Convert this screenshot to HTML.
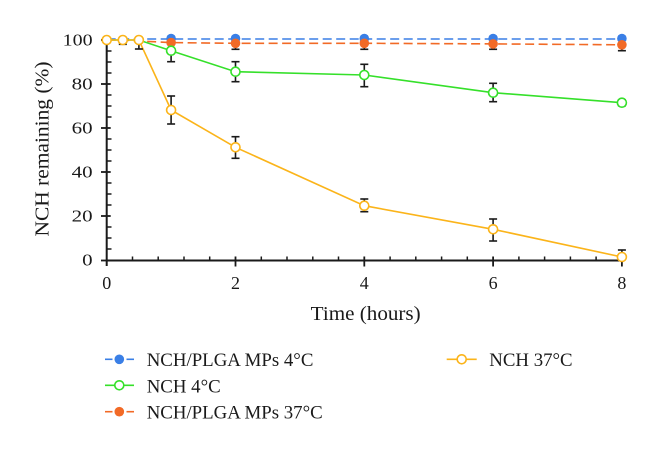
<!DOCTYPE html>
<html>
<head>
<meta charset="utf-8">
<style>
html,body{margin:0;padding:0;background:#fff;}
svg{display:block;}
text{font-family:"Liberation Serif","DejaVu Serif",serif;fill:#1a1a1a;}
</style>
</head>
<body>
<svg width="660" height="451" viewBox="0 0 660 451" xmlns="http://www.w3.org/2000/svg">
<rect width="660" height="451" fill="#fff"/>

<!-- Axes -->
<g stroke="#1a1a1a" fill="none">
  <line x1="106.7" y1="40" x2="106.7" y2="266" stroke-width="2"/>
  <line x1="105.7" y1="260.5" x2="622.5" y2="260.5" stroke-width="2"/>
  <g stroke-width="1.8">
    <line x1="101" y1="40" x2="110.7" y2="40"/>
    <line x1="101" y1="84" x2="110.7" y2="84"/>
    <line x1="101" y1="128" x2="110.7" y2="128"/>
    <line x1="101" y1="172" x2="110.7" y2="172"/>
    <line x1="101" y1="216" x2="110.7" y2="216"/>
    <line x1="101" y1="260.5" x2="106.7" y2="260.5"/>
  </g>
  <g stroke-width="1.5">
    <line x1="106.7" y1="51" x2="111.5" y2="51"/>
    <line x1="106.7" y1="62" x2="111.5" y2="62"/>
    <line x1="106.7" y1="73" x2="111.5" y2="73"/>
    <line x1="106.7" y1="95" x2="111.5" y2="95"/>
    <line x1="106.7" y1="106" x2="111.5" y2="106"/>
    <line x1="106.7" y1="117" x2="111.5" y2="117"/>
    <line x1="106.7" y1="139" x2="111.5" y2="139"/>
    <line x1="106.7" y1="150" x2="111.5" y2="150"/>
    <line x1="106.7" y1="161" x2="111.5" y2="161"/>
    <line x1="106.7" y1="183" x2="111.5" y2="183"/>
    <line x1="106.7" y1="194" x2="111.5" y2="194"/>
    <line x1="106.7" y1="205" x2="111.5" y2="205"/>
    <line x1="106.7" y1="227" x2="111.5" y2="227"/>
    <line x1="106.7" y1="238" x2="111.5" y2="238"/>
    <line x1="106.7" y1="249" x2="111.5" y2="249"/>
  </g>
  <g stroke-width="1.8">
    <line x1="235.5" y1="256.5" x2="235.5" y2="266.5"/>
    <line x1="364.3" y1="256.5" x2="364.3" y2="266.5"/>
    <line x1="493.1" y1="256.5" x2="493.1" y2="266.5"/>
    <line x1="621.9" y1="256.5" x2="621.9" y2="266.5"/>
  </g>
  <g stroke-width="1.5">
    <line x1="132.5" y1="256.5" x2="132.5" y2="260.5"/>
    <line x1="158.2" y1="256.5" x2="158.2" y2="260.5"/>
    <line x1="184.0" y1="256.5" x2="184.0" y2="260.5"/>
    <line x1="209.7" y1="256.5" x2="209.7" y2="260.5"/>
    <line x1="261.3" y1="256.5" x2="261.3" y2="260.5"/>
    <line x1="287.0" y1="256.5" x2="287.0" y2="260.5"/>
    <line x1="312.8" y1="256.5" x2="312.8" y2="260.5"/>
    <line x1="338.5" y1="256.5" x2="338.5" y2="260.5"/>
    <line x1="390.1" y1="256.5" x2="390.1" y2="260.5"/>
    <line x1="415.8" y1="256.5" x2="415.8" y2="260.5"/>
    <line x1="441.6" y1="256.5" x2="441.6" y2="260.5"/>
    <line x1="467.3" y1="256.5" x2="467.3" y2="260.5"/>
    <line x1="518.9" y1="256.5" x2="518.9" y2="260.5"/>
    <line x1="544.6" y1="256.5" x2="544.6" y2="260.5"/>
    <line x1="570.4" y1="256.5" x2="570.4" y2="260.5"/>
    <line x1="596.1" y1="256.5" x2="596.1" y2="260.5"/>
  </g>
</g>

<!-- Tick labels -->
<g font-size="17">
  <text x="92.7" y="45.7" text-anchor="end" textLength="30" lengthAdjust="spacingAndGlyphs">100</text>
  <text x="92.7" y="89.5" text-anchor="end" textLength="21" lengthAdjust="spacingAndGlyphs">80</text>
  <text x="92.7" y="133.5" text-anchor="end" textLength="21" lengthAdjust="spacingAndGlyphs">60</text>
  <text x="92.7" y="177.5" text-anchor="end" textLength="21" lengthAdjust="spacingAndGlyphs">40</text>
  <text x="92.7" y="221.5" text-anchor="end" textLength="21" lengthAdjust="spacingAndGlyphs">20</text>
  <text x="92.7" y="265.7" text-anchor="end" textLength="10.5" lengthAdjust="spacingAndGlyphs">0</text>
</g>
<g font-size="18">
  <text x="106.7" y="289" text-anchor="middle">0</text>
  <text x="235.5" y="289" text-anchor="middle">2</text>
  <text x="364.3" y="289" text-anchor="middle">4</text>
  <text x="493.1" y="289" text-anchor="middle">6</text>
  <text x="621.9" y="289" text-anchor="middle">8</text>
</g>

<!-- Axis titles -->
<text x="365.7" y="320" font-size="20" text-anchor="middle" textLength="110" lengthAdjust="spacingAndGlyphs">Time (hours)</text>
<text transform="translate(48.5,149) rotate(-90)" x="0" y="0" font-size="20" text-anchor="middle" textLength="175" lengthAdjust="spacingAndGlyphs">NCH remaining (%)</text>

<polyline fill="none" stroke="#3a7fe6" stroke-width="1.6" stroke-dasharray="9 4.5"
  points="106.7,39 122.8,39 138.9,39 171.1,39 235.5,39 364.3,39 493.1,39 621.9,39"/>
<polyline fill="none" stroke="#f26a26" stroke-width="1.6" stroke-dasharray="9 4.5"
  points="106.7,40 122.8,40 138.9,41 171.1,42.6 235.5,43.3 364.3,43.3 493.1,43.9 621.9,44.8"/>
<polyline fill="none" stroke="#35e02a" stroke-width="1.6"
  points="106.7,40 122.8,40 138.9,40 171.1,50.7 235.5,71.7 364.3,75 493.1,92.7 621.9,102.7"/>
<polyline fill="none" stroke="#fbb41a" stroke-width="1.6"
  points="106.7,40 122.8,40 138.9,40 171.1,110 235.5,147.3 364.3,205.7 493.1,229.3 621.9,257"/>

<g stroke="#1a1a1a" stroke-width="1.6" fill="none">
  <line x1="122.8" y1="40" x2="122.8" y2="44.3"/><line x1="118.8" y1="44.3" x2="126.8" y2="44.3"/>
  <line x1="138.9" y1="40" x2="138.9" y2="49"/><line x1="134.9" y1="49" x2="142.9" y2="49"/>
  <line x1="235.5" y1="43" x2="235.5" y2="49.3"/><line x1="231.5" y1="49.3" x2="239.5" y2="49.3"/>
  <line x1="364.3" y1="43" x2="364.3" y2="49.3"/><line x1="360.3" y1="49.3" x2="368.3" y2="49.3"/>
  <line x1="493.1" y1="43" x2="493.1" y2="49.3"/><line x1="489.1" y1="49.3" x2="497.1" y2="49.3"/>
  <line x1="621.9" y1="44" x2="621.9" y2="50.7"/><line x1="617.9" y1="50.7" x2="625.9" y2="50.7"/>
  <line x1="171.1" y1="43.3" x2="171.1" y2="61.7"/><line x1="167.1" y1="43.3" x2="175.1" y2="43.3"/><line x1="167.1" y1="61.7" x2="175.1" y2="61.7"/>
  <line x1="235.5" y1="61.7" x2="235.5" y2="81.7"/><line x1="231.5" y1="61.7" x2="239.5" y2="61.7"/><line x1="231.5" y1="81.7" x2="239.5" y2="81.7"/>
  <line x1="364.3" y1="64.3" x2="364.3" y2="86.7"/><line x1="360.3" y1="64.3" x2="368.3" y2="64.3"/><line x1="360.3" y1="86.7" x2="368.3" y2="86.7"/>
  <line x1="493.1" y1="83.3" x2="493.1" y2="101.7"/><line x1="489.1" y1="83.3" x2="497.1" y2="83.3"/><line x1="489.1" y1="101.7" x2="497.1" y2="101.7"/>
  <line x1="621.9" y1="99.8" x2="621.9" y2="105.8"/><line x1="617.9" y1="99.8" x2="625.9" y2="99.8"/><line x1="617.9" y1="105.8" x2="625.9" y2="105.8"/>
  <line x1="171.1" y1="96" x2="171.1" y2="124"/><line x1="167.1" y1="96" x2="175.1" y2="96"/><line x1="167.1" y1="124" x2="175.1" y2="124"/>
  <line x1="235.5" y1="136.7" x2="235.5" y2="158.3"/><line x1="231.5" y1="136.7" x2="239.5" y2="136.7"/><line x1="231.5" y1="158.3" x2="239.5" y2="158.3"/>
  <line x1="364.3" y1="199" x2="364.3" y2="211.7"/><line x1="360.3" y1="199" x2="368.3" y2="199"/><line x1="360.3" y1="211.7" x2="368.3" y2="211.7"/>
  <line x1="493.1" y1="219" x2="493.1" y2="241"/><line x1="489.1" y1="219" x2="497.1" y2="219"/><line x1="489.1" y1="241" x2="497.1" y2="241"/>
  <line x1="621.9" y1="250" x2="621.9" y2="259"/><line x1="617.9" y1="250" x2="625.9" y2="250"/>
</g>

<g fill="#3a7fe6">
  <circle cx="171.1" cy="38.5" r="4.8"/>
  <circle cx="235.5" cy="38.5" r="4.8"/>
  <circle cx="364.3" cy="38.5" r="4.8"/>
  <circle cx="493.1" cy="38.5" r="4.8"/>
  <circle cx="621.9" cy="38.5" r="4.8"/>
</g>
<g fill="#f26a26">
  <circle cx="171.1" cy="42.6" r="4.8"/>
  <circle cx="235.5" cy="43.3" r="4.8"/>
  <circle cx="364.3" cy="43.3" r="4.8"/>
  <circle cx="493.1" cy="43.9" r="4.8"/>
  <circle cx="621.9" cy="44.8" r="4.8"/>
</g>
<g fill="#fff" stroke="#35e02a" stroke-width="1.6">
  <circle cx="171.1" cy="50.7" r="4.5"/>
  <circle cx="235.5" cy="71.7" r="4.5"/>
  <circle cx="364.3" cy="75" r="4.5"/>
  <circle cx="493.1" cy="92.7" r="4.5"/>
  <circle cx="621.9" cy="102.7" r="4.5"/>
</g>
<g fill="#fff" stroke="#fbb41a" stroke-width="1.6">
  <circle cx="106.7" cy="40" r="4.5"/>
  <circle cx="122.8" cy="40" r="4.5"/>
  <circle cx="138.9" cy="40" r="4.5"/>
  <circle cx="171.1" cy="110" r="4.5"/>
  <circle cx="235.5" cy="147.3" r="4.5"/>
  <circle cx="364.3" cy="205.7" r="4.5"/>
  <circle cx="493.1" cy="229.3" r="4.5"/>
  <circle cx="621.9" cy="257" r="4.5"/>
</g>

<g>
  <line x1="105" y1="359.3" x2="112.5" y2="359.3" stroke="#3a7fe6" stroke-width="1.6"/>
  <line x1="126.5" y1="359.3" x2="134" y2="359.3" stroke="#3a7fe6" stroke-width="1.6"/>
  <circle cx="119.3" cy="359.3" r="4.8" fill="#3a7fe6"/>
  <text x="146.7" y="366" font-size="19" textLength="166.7" lengthAdjust="spacingAndGlyphs">NCH/PLGA MPs 4°C</text>

  <line x1="105" y1="385.3" x2="134" y2="385.3" stroke="#35e02a" stroke-width="1.6"/>
  <circle cx="119.3" cy="385.3" r="4.5" fill="#fff" stroke="#35e02a" stroke-width="1.6"/>
  <text x="146.7" y="392.3" font-size="19" textLength="74" lengthAdjust="spacingAndGlyphs">NCH 4°C</text>

  <line x1="105" y1="411.7" x2="112.5" y2="411.7" stroke="#f26a26" stroke-width="1.6"/>
  <line x1="126.5" y1="411.7" x2="134" y2="411.7" stroke="#f26a26" stroke-width="1.6"/>
  <circle cx="119.3" cy="411.7" r="4.8" fill="#f26a26"/>
  <text x="146.7" y="418.5" font-size="19" textLength="176" lengthAdjust="spacingAndGlyphs">NCH/PLGA MPs 37°C</text>

  <line x1="446.7" y1="359.3" x2="476.7" y2="359.3" stroke="#fbb41a" stroke-width="1.6"/>
  <circle cx="461.7" cy="359.3" r="4.5" fill="#fff" stroke="#fbb41a" stroke-width="1.6"/>
  <text x="489.3" y="366" font-size="19" textLength="83.3" lengthAdjust="spacingAndGlyphs">NCH 37°C</text>
</g>
</svg>
</body>
</html>
